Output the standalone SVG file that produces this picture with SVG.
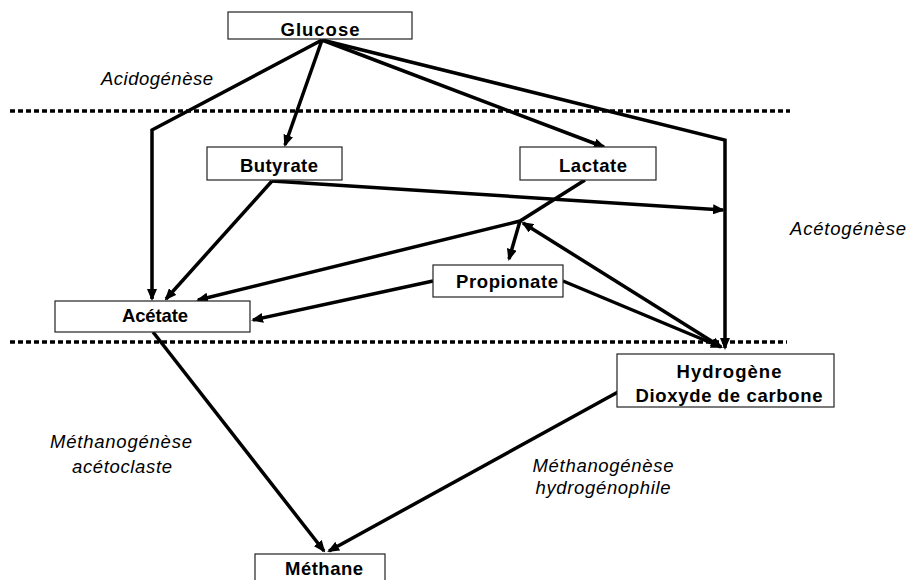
<svg xmlns="http://www.w3.org/2000/svg" width="910" height="580" viewBox="0 0 910 580">
<defs>
<marker id="arr" viewBox="0 0 12 10" refX="10" refY="5" markerWidth="12" markerHeight="10" markerUnits="userSpaceOnUse" orient="auto-start-reverse">
<path d="M0,0 L12,5 L0,10 z" fill="#000"/>
</marker>
<style>
.box{fill:#fff;stroke:#222;stroke-width:1.2}
.lbl{font-family:"Liberation Sans",Arial,sans-serif;font-weight:bold;font-size:18.5px;fill:#000;text-anchor:middle}
.it{font-family:"Liberation Sans",Arial,sans-serif;font-style:italic;font-size:18.5px;fill:#000;text-anchor:middle}
.c{fill:none;stroke:#000;stroke-width:3.5;stroke-linejoin:miter}
.a{marker-end:url(#arr)}
.dash{stroke:#000;stroke-width:3.5;stroke-dasharray:5 3}
</style>
</defs>
<rect width="910" height="580" fill="#fff"/>
<line class="dash" x1="10" y1="111" x2="790" y2="111"/>
<line class="dash" x1="10" y1="342" x2="787" y2="342"/>
<g id="labels">
<text class="it" x="157" y="85" textLength="112" lengthAdjust="spacing">Acidogénèse</text>
<text class="it" x="848" y="235" textLength="116" lengthAdjust="spacing">Acétogénèse</text>
<text class="it" x="121" y="448" textLength="142" lengthAdjust="spacing">Méthanogénèse</text>
<text class="it" x="122" y="473" textLength="100" lengthAdjust="spacing">acétoclaste</text>
<text class="it" x="603" y="472" textLength="141" lengthAdjust="spacing">Méthanogénèse</text>
<text class="it" x="603" y="494" textLength="135" lengthAdjust="spacing">hydrogénophile</text>
</g>
<g id="connectors">
<polyline class="c a" points="322,40 152,130 152,299"/>
<line class="c a" x1="322" y1="40" x2="285" y2="145"/>
<line class="c a" x1="322" y1="40" x2="604" y2="147"/>
<polyline class="c a" points="322,40 725,140 725,348"/>
<line class="c a" x1="272" y1="181" x2="723" y2="210"/>
<line class="c a" x1="272" y1="181" x2="166" y2="299"/>
<polyline class="c a" points="585,180 520,221 198,300"/>
<line class="c a" x1="520" y1="221" x2="509" y2="259"/>
<line class="c a" x1="523" y1="223" x2="721" y2="347" style="marker-start:url(#arr)"/>
<line class="c a" x1="433" y1="281" x2="253" y2="320"/>
<line class="c a" x1="563" y1="281" x2="721" y2="347"/>
<line class="c a" x1="153" y1="332" x2="324" y2="551"/>
<line class="c a" x1="618" y1="392" x2="329" y2="551"/>
</g>
<g id="glucose"><rect class="box" x="228" y="12" width="184" height="27"/><text class="lbl" x="320" y="36" textLength="79" lengthAdjust="spacing">Glucose</text></g>
<g id="butyrate"><rect class="box" x="207" y="147" width="135" height="33"/><text class="lbl" x="279" y="172" textLength="78" lengthAdjust="spacing">Butyrate</text></g>
<g id="lactate"><rect class="box" x="520" y="147" width="136" height="33"/><text class="lbl" x="593" y="172" textLength="68" lengthAdjust="spacing">Lactate</text></g>
<g id="propionate"><rect class="box" x="433" y="265" width="130" height="32"/><text class="lbl" x="507" y="288" textLength="102" lengthAdjust="spacing">Propionate</text></g>
<g id="acetate"><rect class="box" x="55" y="301" width="195" height="31"/><text class="lbl" x="155" y="322" textLength="66" lengthAdjust="spacing">Acétate</text></g>
<g id="hydrogene"><rect class="box" x="617" y="354" width="217" height="53"/><text class="lbl" x="729" y="378" textLength="105" lengthAdjust="spacing">Hydrogène</text><text class="lbl" x="729" y="402" textLength="187" lengthAdjust="spacing">Dioxyde de carbone</text></g>
<g id="methane"><rect class="box" x="255" y="554" width="130" height="34"/><text class="lbl" x="324" y="575" textLength="78" lengthAdjust="spacing">Méthane</text></g>
</svg>
